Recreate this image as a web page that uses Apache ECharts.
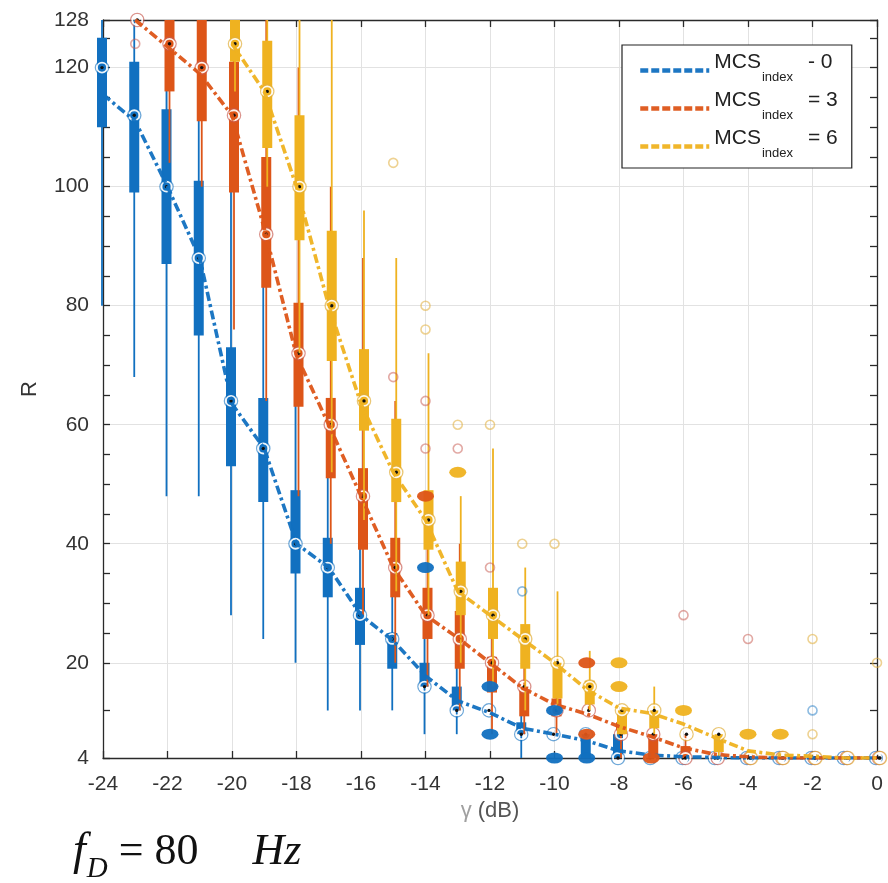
<!DOCTYPE html>
<html><head><meta charset="utf-8">
<script src="https://cdn.jsdelivr.net/npm/echarts@6/dist/echarts.min.js"></script>
<style>html,body{margin:0;padding:0;background:#fff}#c{width:888px;height:883px}</style>
</head><body><div id="c"></div>
<script>
// ---- data ----
const gammaDb = [-24,-23,-22,-21,-20,-19,-18,-17,-16,-15,-14,-13,-12,-11,-10,-9,-8,-7,-6,-5,-4,-3,-2,-1,0];
const yTickValues = [4,12,20,25,30,35,40,45,50,55,60,65,70,75,80,85,90,95,100,105,110,115,120,125,128];
const yLabelValues = [4,20,40,60,80,100,120,128];
const yGridValues = [20,40,60,80,100,120];

// box stats per gamma: [min, q1, median, q3, max]
const blueBox = [
  [80,110,120,125,128],[68,99,112,121,128],[48,87,100,113,120],[48,75,88,101,112],
  [28,53,64,73,100],[24,47,56,64.5,88],[20,35,40,49,72],[12,31,36,41,56],
  [12,23,28,32.6,44],[12,19,24,25,36],[8,16,16,20,28],[8,12,12,16,20],
  [12,12,12,12,12],[4,8,8,10,12],[8,8,8,8,8],[4,4,8,8,8],[4,4,4,8,8],
  [4,4,4,4,4],[4,4,4,4,4],[4,4,4,4,4],[4,4,4,4,4],[4,4,4,4,4],[4,4,4,4,4],[4,4,4,4,4],[4,4,4,4,4]
];
const orangeBox = [
  null,[128,128,128,128,128],[104,116,124,128,128],[100,111,120,128,128],
  [76,99,112,121,128],[64,83,92,105,128],[48,63,72,80.5,120],[40,51,60,64.5,100],
  [28,39,48,52.7,88],[20,31,36,41,64],[16,24,28,32.6,44],[12,19,24,28.7,40],
  [8,15,20,21,32],[8,11,16,16,24],[8,11,12,14,20],[12,12,12,12,16],[4,8,8,10,12],
  [4,4,8,8,8],[4,4,4,6,8],[4,4,4,4,4],[4,4,4,4,4],[4,4,4,4,4],[4,4,4,4,4],[4,4,4,4,4],[4,4,4,4,4]
];
const yellowBox = [
  null,null,null,null,
  [116,121,124,128,128],[100,106.5,116,124.5,128],[72,91,100,112,128],[52,70.7,80,92.6,128],
  [44,59,64,72.7,96],[32,47,52,61,88],[28,39,44,49,72],[20,28,32,37,48],
  [16,24,28,32.6,56],[12,19,24,26.5,36],[12,14,20,20,32],[12,13,16,17,22],
  [8,8,12,12,12],[8,9,12,12,16],[8,8,8,8,8],[4,5,8,8,8],
  [4,4,4,4,4],[4,4,4,4,4],[4,4,4,4,4],[4,4,4,4,4],[4,4,4,4,4]
];

// mean curves (dash-dot lines)
const blueMean = [115.5,111,100,88,63.5,56,40,36,28,23.7,17.8,13.6,11.6,9,8,6.9,5.2,4.5,4.2,4.1,4,4,4,4,4];
const orangeMean = [null,128,123.5,119,112,93,71.6,60,48,36,28,24.2,20,15.8,13,11.4,9.3,7.6,5.7,4.6,4.2,4,4,4,4];
const yellowMean = [null,null,null,null,124,116,100,80,63.5,52,44,32,28,24,20,15.5,12.4,11.5,9.7,7.4,5.2,4.5,4.3,4,4];

// outliers [gamma, R]
const blueOutHollow = [[-11,32],[-2,12]];
const blueOutFilled = [[-14,36],[-12,16],[-12,8],[-10,12],[-10,4],[-9,4]];
const orangeOutHollow = [[-23,124],[-15,68],[-14,64],[-14,56],[-13,56],[-12,36],[-6,28],[-4,24]];
const orangeOutFilled = [[-14,48],[-9,20],[-9,8],[-7,4]];
const yellowOutHollow = [[-15,104],[-14,80],[-14,76],[-13,60],[-12,60],[-11,40],[-10,40],[-2,24],[-2,8],[0,20]];
const yellowOutFilled = [[-13,52],[-8,20],[-8,16],[-6,12],[-4,8],[-3,8]];

const seriesNames = ['MCS0','MCS3','MCS6'];
const mcsValues = ['- 0','= 3','= 6'];

// ---- styles ----
const COLORS = ['#1170c0','#dd5518','#efb220'];
const LIGHT = ['rgba(17,112,192,0.6)','rgba(200,90,80,0.65)','rgba(225,175,60,0.7)'];
const XSHIFT = [-1, 2, 3];

function boxData(stats){
  const out = [];
  stats.forEach((s,i)=>{ if(s) out.push([gammaDb[i]].concat(s)); });
  return out;
}
function lineData(vals){
  const out = [];
  vals.forEach((v,i)=>{ if(v!=null) out.push([gammaDb[i], v]); });
  return out;
}
function renderBox(k){
  return function(params, api){
    const x = api.value(0);
    const pMin = api.coord([x, api.value(1)]);
    const pQ1 = api.coord([x, api.value(2)]);
    const pMd = api.coord([x, api.value(3)]);
    const pQ3 = api.coord([x, api.value(4)]);
    const pMax = api.coord([x, api.value(5)]);
    const cx = pMd[0] + XSHIFT[k];
    const hw = 5;
    return {type:'group', children:[
      {type:'line', shape:{x1:cx, y1:pMin[1], x2:cx, y2:pMax[1]}, style:{stroke:COLORS[k], lineWidth:1.8}},
      {type:'rect', shape:{x:cx-hw, y:pQ3[1], width:hw*2, height:Math.max(pQ1[1]-pQ3[1],0)}, style:{fill:COLORS[k]}},
      {type:'circle', shape:{cx:cx, cy:pMd[1], r:6.6}, style:{fill:null, stroke:LIGHT[k], lineWidth:1.4}},
      {type:'circle', shape:{cx:cx, cy:pMd[1], r:5}, style:{fill:null, stroke:'rgba(255,255,255,0.92)', lineWidth:1.8}},
      {type:'circle', shape:{cx:cx, cy:pMd[1], r:1.7}, style:{fill:'#111'}}
    ]};
  };
}

const boxes = [blueBox, orangeBox, yellowBox];
const means = [blueMean, orangeMean, yellowMean];
const hollow = [blueOutHollow, orangeOutHollow, yellowOutHollow];
const filled = [blueOutFilled, orangeOutFilled, yellowOutFilled];

const series = [];
for (let k=0;k<3;k++){
  series.push({
    type:'custom', name:'box'+k, xAxisIndex:0, yAxisIndex:0, clip:false, z:2+k,
    renderItem: renderBox(k), encode:{x:0, y:[1,2,3,4,5]}, data: boxData(boxes[k]),
    silent:true
  });
}
for (let k=0;k<3;k++){
  series.push({
    type:'scatter', name:'oh'+k, xAxisIndex:0, yAxisIndex:0, symbol:'circle', symbolSize:9, z:8,
    itemStyle:{color:'rgba(255,255,255,0)', borderColor:LIGHT[k], borderWidth:1.6},
    data: hollow[k], silent:true
  });
  series.push({
    type:'scatter', name:'of'+k, xAxisIndex:0, yAxisIndex:0, symbol:'circle', symbolSize:[17,11], z:8,
    itemStyle:{color:COLORS[k], opacity:0.95},
    data: filled[k], silent:true
  });
}
for (let k=0;k<3;k++){
  series.push({
    type:'line', name:seriesNames[k], xAxisIndex:0, yAxisIndex:0, symbol:'none', z:7,
    lineStyle:{color:COLORS[k], width:3.6, type:[9,3.5,3,3.5], opacity:0.95},
    itemStyle:{color:COLORS[k]},
    data: lineData(means[k]), silent:true
  });
}

const FONT = 'Liberation Sans, Arial, sans-serif';
const SERIF = 'Liberation Serif, Times New Roman, serif';
const axisLineStyle = {color:'#2a2a2a', width:1.3};

const option = {
  backgroundColor:'#fff',
  animation:false,
  grid:{left:103, right:11, top:20, bottom:125},
  title:{
    text:'{f|f}{d|D}{eq| = 80}{hz|Hz}',
    left:68, top:824,
    textStyle:{
      fontWeight:'normal',
      rich:{
        f:{fontFamily:SERIF, fontStyle:'italic', fontWeight:'normal', fontSize:46, color:'#111', padding:[0,0,14,0]},
        d:{fontFamily:SERIF, fontStyle:'italic', fontWeight:'normal', fontSize:29, color:'#111', padding:[20,0,0,1]},
        eq:{fontFamily:SERIF, fontWeight:'normal', fontSize:44, color:'#111', padding:[0,0,14,0]},
        hz:{fontFamily:SERIF, fontStyle:'italic', fontWeight:'normal', fontSize:44, color:'#111', padding:[0,0,14,54]}
      }
    }
  },
  legend:{
    data: seriesNames,
    orient:'vertical', left:622, top:45,
    padding:[7,14,8,16], itemGap:6,
    itemWidth:69, itemHeight:12,
    backgroundColor:'#fff', borderColor:'#222', borderWidth:1.2,
    lineStyle:{type:[8,3], width:4.5},
    itemStyle:{opacity:0},
    z:20,
    formatter: function(name){
      const i = seriesNames.indexOf(name);
      return '{m|MCS}{s|index}{e|' + mcsValues[i] + '}';
    },
    textStyle:{
      rich:{
        m:{fontFamily:FONT, fontSize:21, color:'#222', padding:[0,0,16,0]},
        s:{fontFamily:FONT, fontSize:13, color:'#222', padding:[14,0,0,1]},
        e:{fontFamily:FONT, fontSize:21, color:'#222', padding:[0,0,16,15]}
      }
    }
  },
  xAxis:[
    {type:'value', min:-24, max:0, interval:2, position:'bottom',
     axisLine:{show:true, onZero:false, lineStyle:axisLineStyle},
     axisTick:{show:true, inside:true, length:7, lineStyle:axisLineStyle},
     axisLabel:{fontFamily:FONT, fontSize:21, color:'#333', margin:16},
     splitLine:{show:true, lineStyle:{color:'#e2e2e2', width:1}},
     name:'{g|γ}{u| (dB)}', nameLocation:'middle', nameGap:31,
     nameTextStyle:{rich:{g:{fontFamily:FONT, fontSize:22, color:'#a0a0a0'}, u:{fontFamily:FONT, fontSize:22, color:'#555'}}}
    },
    {type:'value', min:-24, max:0, interval:2, position:'top',
     axisLine:{show:true, onZero:false, lineStyle:axisLineStyle},
     axisTick:{show:true, inside:true, length:7, lineStyle:axisLineStyle},
     axisLabel:{show:false}, splitLine:{show:false}
    }
  ],
  yAxis:[
    {type:'value', min:4, max:128, position:'left',
     axisLine:{show:true, onZero:false, lineStyle:axisLineStyle},
     axisTick:{show:true, inside:true, length:7, lineStyle:axisLineStyle, customValues:yTickValues},
     axisLabel:{fontFamily:FONT, fontSize:21, color:'#333', margin:14, customValues:yLabelValues},
     splitLine:{show:false},
     name:'R', nameLocation:'middle', nameGap:62,
     nameTextStyle:{fontFamily:FONT, fontSize:22, color:'#333'}
    },
    {type:'value', min:4, max:128, position:'right',
     axisLine:{show:true, onZero:false, lineStyle:axisLineStyle},
     axisTick:{show:true, inside:true, length:7, lineStyle:axisLineStyle, customValues:yTickValues},
     axisLabel:{show:false}, splitLine:{show:false}
    },
    {type:'value', min:4, max:128, position:'left',
     axisLine:{show:false}, axisTick:{show:false, customValues:yGridValues},
     axisLabel:{show:false, customValues:yGridValues},
     splitLine:{show:true, lineStyle:{color:'#e2e2e2', width:1}}
    }
  ],
  series: series
};
const chart = echarts.init(document.getElementById('c'), null, {renderer:'canvas'});
chart.setOption(option);
</script>
</body></html>
